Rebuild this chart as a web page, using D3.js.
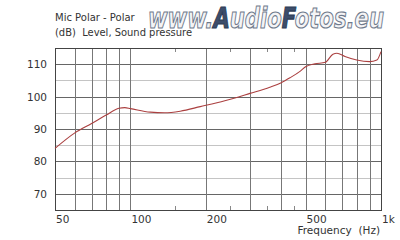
<!DOCTYPE html>
<html>
<head>
<meta charset="utf-8">
<script src="https://cdn.jsdelivr.net/npm/d3@7"></script>
<style>
  body { margin: 0; background: #fff; }
  svg { display: block; font-family: "DejaVu Sans", Verdana, sans-serif; }
</style>
</head>
<body>
<svg id="chart" width="400" height="240"></svg>
<script>
// frequency response
const freqs = [50, 60, 70, 80, 90, 95, 100, 120, 137, 158, 190, 238, 300, 360, 400, 433, 475, 500, 545, 600, 643, 667, 718, 800, 900, 963, 1000]
const levels = [84.0, 88.8, 91.7, 94.3, 96.4, 96.6, 96.3, 95.2, 95.0, 95.5, 96.9, 98.7, 101.0, 102.9, 104.3, 105.8, 107.8, 109.2, 110.1, 110.6, 113.1, 113.4, 112.4, 111.3, 110.8, 111.3, 113.9]

const gridFreqs = [60, 70, 80, 90, 100, 200, 300, 400, 500, 600, 700, 800, 900]
const minorFreqs = [150, 250, 350, 450]
const xLabels = [50, 100, 200, 500, 1000]
const yLabels = [70, 80, 90, 100, 110]
const yMinor = [75, 85, 95, 105]

const svg = d3.select('#chart')
const plotL = 55, plotR = 381, plotT = 48, plotB = 210

const x = d3.scaleLog().domain([50, 1000]).range([plotL, plotR])
const y = d3.scaleLinear().domain([65, 115]).range([plotB, plotT])

// horizontal grid
svg.append('g').selectAll('line').data(yMinor).join('line')
  .attr('x1', plotL).attr('x2', plotR)
  .attr('y1', d => Math.round(y(d)) + 0.5).attr('y2', d => Math.round(y(d)) + 0.5)
  .attr('stroke', '#c4c4c4')
svg.append('g').selectAll('line').data(yLabels).join('line')
  .attr('x1', plotL).attr('x2', plotR)
  .attr('y1', d => Math.round(y(d)) + 0.5).attr('y2', d => Math.round(y(d)) + 0.5)
  .attr('stroke', '#666')

// vertical grid
svg.append('g').selectAll('line').data(gridFreqs).join('line')
  .attr('x1', d => Math.round(x(d)) + 0.5).attr('x2', d => Math.round(x(d)) + 0.5)
  .attr('y1', plotT).attr('y2', plotB)
  .attr('stroke', '#777')

// minor ticks top/bottom
const mt = svg.append('g').attr('stroke', '#888')
mt.selectAll('line.b').data(minorFreqs).join('line').attr('class', 'b')
  .attr('x1', d => Math.round(x(d)) + 0.5).attr('x2', d => Math.round(x(d)) + 0.5)
  .attr('y1', plotB - 4).attr('y2', plotB)
mt.selectAll('line.t').data(minorFreqs).join('line').attr('class', 't')
  .attr('x1', d => Math.round(x(d)) + 0.5).attr('x2', d => Math.round(x(d)) + 0.5)
  .attr('y1', plotT).attr('y2', plotT + 4)

// frame
svg.append('rect')
  .attr('x', plotL + 0.5).attr('y', plotT + 0.5)
  .attr('width', plotR - plotL).attr('height', plotB - plotT)
  .attr('fill', 'none').attr('stroke', '#444')

// curve
const line = d3.line()
  .x((d, i) => x(freqs[i]))
  .y(d => y(d))
  .curve(d3.curveMonotoneX)
svg.append('path')
  .attr('d', line(levels))
  .attr('fill', 'none')
  .attr('stroke', '#ab4040')
  .attr('stroke-width', 1.1)

// y labels
svg.append('g').selectAll('text').data(yLabels).join('text')
  .attr('x', 47).attr('y', d => y(d) + 4)
  .attr('text-anchor', 'end')
  .attr('font-size', 10.5).attr('fill', '#333')
  .text(d => d)

// x labels
svg.append('g').selectAll('text').data(xLabels).join('text')
  .attr('x', d => x(d) + 1).attr('y', 223)
  .attr('font-size', 10.5).attr('fill', '#333')
  .text(d => d >= 1000 ? (d / 1000) + 'k' : d)

svg.append('text')
  .attr('x', 380).attr('y', 234)
  .attr('text-anchor', 'end')
  .attr('font-size', 10.5).attr('fill', '#333')
  .attr('xml:space', 'preserve')
  .text('Frequency  (Hz)')

// titles
svg.append('text')
  .attr('x', 55).attr('y', 21)
  .attr('font-size', 10).attr('fill', '#333')
  .text('Mic Polar - Polar')
svg.append('text')
  .attr('x', 55).attr('y', 36)
  .attr('font-size', 10).attr('fill', '#333')
  .attr('xml:space', 'preserve')
  .attr('textLength', 137).attr('lengthAdjust', 'spacingAndGlyphs')
  .text('(dB)  Level, Sound pressure')

// watermark
const wm = svg.append('text')
  .attr('x', 148).attr('y', 28)
  .attr('font-family', '"DejaVu Sans", sans-serif')
  .attr('font-weight', 'bold').attr('font-style', 'italic')
  .attr('font-size', 29)
  .attr('textLength', 236).attr('lengthAdjust', 'spacingAndGlyphs')
const parts = [['www.', false], ['A', true], ['udio', false], ['F', true], ['otos.eu', false]]
parts.forEach(([t, solid]) => {
  wm.append('tspan').text(t)
    .attr('fill', solid ? '#3c4d6b' : '#f4f4f6')
    .attr('stroke', solid ? '#2e3c55' : '#6f7a8c')
    .attr('stroke-width', 1.2)
})
</script>
</body>
</html>
